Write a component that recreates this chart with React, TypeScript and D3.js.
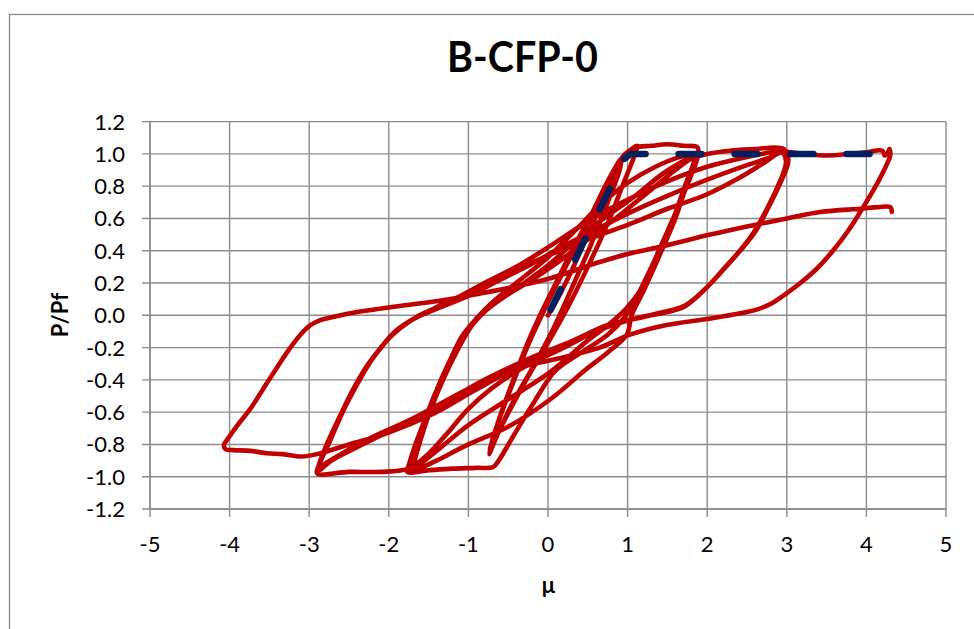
import React from "react";
import * as d3 from "d3";

const W = 974;
const H = 629;

const title = "B-CFP-0";
const xTitle = "μ";
const yTitle = "P/Pf";

const muTicks = [-5, -4, -3, -2, -1, 0, 1, 2, 3, 4, 5];
const pTicks = [-1.2, -1.0, -0.8, -0.6, -0.4, -0.2, 0.0, 0.2, 0.4, 0.6, 0.8, 1.0, 1.2];

// Idealised bilinear envelope (dashed)
const envelope: [number, number][] = [[0, 0], [0.96, 0.97], [1.04, 1.0], [4.05, 1.0]];

// Cyclic test record
const cycleA1: [number, number][] = [
  [0, 0], [0.15, 0.13], [0.3, 0.28], [0.5, 0.5], [0.7, 0.72], [0.85, 0.88], [0.97, 0.99], [1.05, 1.03], [1.12, 1.05],
  [1.08, 0.98], [0.95, 0.82], [0.75, 0.57], [0.5, 0.3], [0.25, 0.05], [0.0, -0.17], [-0.25, -0.38], [-0.45, -0.56], [-0.62, -0.72], [-0.73, -0.83],
  [-0.7, -0.78], [-0.6, -0.62], [-0.45, -0.42], [-0.28, -0.2], [-0.1, 0.0], [0.1, 0.2], [0.3, 0.4], [0.55, 0.63], [0.75, 0.83], [0.92, 0.97],
];
const cycleA2: [number, number][] = [
  [0.9, 0.9], [0.75, 0.7], [0.55, 0.45], [0.3, 0.17], [0.05, -0.1], [-0.2, -0.33], [-0.42, -0.52], [-0.6, -0.7], [-0.72, -0.84], [-0.74, -0.86],
  [-0.68, -0.74], [-0.55, -0.56], [-0.4, -0.37], [-0.22, -0.15], [0.0, 0.08], [0.2, 0.28], [0.45, 0.52], [0.68, 0.76], [0.88, 0.94], [0.97, 1.0],
];
const cycleB1: [number, number][] = [
  [1.1, 1.04], [1.3, 1.05], [1.5, 1.06], [1.7, 1.05], [1.88, 1.04],
  [1.88, 0.98], [1.8, 0.87], [1.66, 0.7], [1.5, 0.52], [1.3, 0.3], [1.1, 0.1], [0.95, -0.02], [0.75, -0.12], [0.45, -0.22], [0.2, -0.3],
  [0.06, -0.36], [-0.19, -0.55], [-0.45, -0.76], [-0.62, -0.9], [-0.69, -0.94], [-0.9, -0.945], [-1.2, -0.95], [-1.5, -0.96], [-1.77, -0.97],
  [-1.75, -0.93], [-1.68, -0.82], [-1.55, -0.65], [-1.43, -0.5], [-1.25, -0.3], [-1.08, -0.13], [-0.9, -0.02], [-0.7, 0.08], [-0.4, 0.2],
  [0.0, 0.36], [0.35, 0.53], [0.65, 0.68], [1.0, 0.82], [1.35, 0.92], [1.65, 0.98], [1.86, 1.0],
];
const cycleB2: [number, number][] = [
  [1.86, 0.97], [1.75, 0.82], [1.6, 0.6], [1.4, 0.37], [1.2, 0.15], [1.05, 0.0], [0.99, -0.12], [0.75, -0.23], [0.49, -0.33], [0.03, -0.52],
  [-0.5, -0.69], [-1.0, -0.8], [-1.4, -0.9], [-1.62, -0.95], [-1.74, -0.97],
  [-1.72, -0.93], [-1.65, -0.8], [-1.52, -0.62], [-1.38, -0.44], [-1.2, -0.25], [-1.02, -0.1], [-0.85, 0.0], [-0.6, 0.1], [-0.3, 0.2],
  [0.0, 0.31], [0.35, 0.46], [0.7, 0.6], [1.07, 0.73], [1.45, 0.88], [1.75, 0.97], [1.85, 1.0],
];
const cycleB3: [number, number][] = [
  [1.84, 0.96], [1.72, 0.8], [1.56, 0.58], [1.37, 0.36], [1.18, 0.17], [0.98, 0.04], [0.78, -0.05], [0.49, -0.16], [0.03, -0.35], [-0.5, -0.52],
  [-1.0, -0.68], [-1.4, -0.84], [-1.6, -0.92], [-1.7, -0.96],
  [-1.68, -0.91], [-1.6, -0.77], [-1.47, -0.58], [-1.3, -0.38], [-1.12, -0.2], [-0.95, -0.06], [-0.78, 0.03], [-0.5, 0.13], [-0.2, 0.22],
  [0.1, 0.32], [0.5, 0.47], [0.9, 0.62], [1.3, 0.78], [1.6, 0.9], [1.8, 0.97],
];
const cycleC1: [number, number][] = [
  [2.0, 1.0], [2.3, 1.02], [2.6, 1.03], [2.96, 1.03],
  [3.02, 0.96], [2.9, 0.8], [2.75, 0.65], [2.62, 0.53], [2.45, 0.42], [2.27, 0.32], [2.07, 0.21], [1.88, 0.12], [1.72, 0.06], [1.55, 0.03],
  [1.28, 0.0], [0.95, -0.04], [0.6, -0.1], [0.2, -0.2], [-0.3, -0.32], [-0.7, -0.45], [-1.0, -0.58], [-1.3, -0.75], [-1.55, -0.88],
  [-1.75, -0.95], [-2.1, -0.97], [-2.5, -0.97], [-2.9, -0.98],
  [-2.88, -0.93], [-2.78, -0.8], [-2.61, -0.62], [-2.45, -0.46], [-2.27, -0.31], [-2.1, -0.2], [-1.94, -0.11], [-1.8, -0.06], [-1.65, -0.01],
  [-1.44, 0.04], [-1.1, 0.12], [-0.8, 0.2], [-0.4, 0.3], [0.03, 0.43], [0.4, 0.55], [0.74, 0.65], [1.1, 0.74], [1.5, 0.83],
  [2.0, 0.92], [2.5, 0.98], [2.8, 1.01], [2.95, 1.02],
];
const cycleC2: [number, number][] = [
  [3.0, 0.95], [2.88, 0.79], [2.73, 0.64], [2.6, 0.52], [2.43, 0.41], [2.25, 0.31], [2.05, 0.2], [1.86, 0.11], [1.7, 0.05], [1.5, 0.02],
  [1.2, -0.01], [0.85, -0.05], [0.45, -0.13], [0.0, -0.23], [-0.35, -0.3], [-1.02, -0.46], [-1.7, -0.64], [-2.27, -0.77], [-2.6, -0.86],
  [-2.8, -0.92], [-2.9, -0.97],
  [-2.87, -0.92], [-2.76, -0.79], [-2.6, -0.62], [-2.43, -0.45], [-2.25, -0.3], [-2.08, -0.19], [-1.92, -0.1], [-1.75, -0.04], [-1.6, 0.0],
  [-1.4, 0.04], [-1.0, 0.12], [-0.6, 0.22], [-0.2, 0.32], [0.2, 0.43], [0.6, 0.53], [1.0, 0.63], [1.5, 0.74], [2.0, 0.84], [2.5, 0.93],
  [2.8, 0.98], [2.94, 1.01],
];
const cycleC3: [number, number][] = [
  [2.99, 0.95], [2.87, 0.78], [2.72, 0.63], [2.58, 0.51], [2.41, 0.4], [2.23, 0.3], [2.03, 0.19], [1.84, 0.1], [1.68, 0.05], [1.45, 0.02],
  [1.1, -0.02], [0.75, -0.06], [0.3, -0.16], [-0.2, -0.26], [-0.8, -0.4], [-1.44, -0.58], [-2.0, -0.72], [-2.45, -0.83], [-2.72, -0.9],
  [-2.88, -0.96],
  [-2.86, -0.91], [-2.74, -0.78], [-2.58, -0.6], [-2.4, -0.43], [-2.22, -0.28], [-2.05, -0.17], [-1.88, -0.09], [-1.72, -0.03], [-1.55, 0.01],
  [-1.36, 0.06], [-0.95, 0.15], [-0.5, 0.26], [0.0, 0.37], [0.5, 0.47], [1.0, 0.56], [1.5, 0.66], [2.0, 0.75], [2.4, 0.85], [2.7, 0.94],
  [2.93, 1.01],
];
const cycleD: [number, number][] = [
  [3.2, 1.0], [3.5, 0.99], [3.8, 1.0], [4.0, 1.01], [4.2, 1.02], [4.23, 0.99], [4.26, 1.0], [4.29, 1.03], [4.3, 0.99],
  [4.27, 0.95], [4.15, 0.83], [3.96, 0.67], [3.78, 0.53], [3.58, 0.4], [3.38, 0.29], [3.17, 0.2], [2.98, 0.13], [2.83, 0.08], [2.65, 0.04],
  [2.5, 0.02], [2.04, -0.02], [1.49, -0.06], [1.03, -0.12], [0.65, -0.2], [0.2, -0.26], [-0.39, -0.33], [-0.9, -0.46], [-1.44, -0.61],
  [-2.02, -0.73], [-2.5, -0.8], [-2.9, -0.86], [-3.1, -0.875], [-3.33, -0.86], [-3.53, -0.855], [-3.74, -0.84], [-3.95, -0.835],
  [-4.05, -0.83], [-4.07, -0.8],
  [-4.03, -0.77], [-3.9, -0.68], [-3.74, -0.58], [-3.57, -0.45], [-3.4, -0.32], [-3.25, -0.21], [-3.11, -0.12], [-2.98, -0.06], [-2.86, -0.03],
  [-2.7, -0.01], [-2.4, 0.02], [-1.98, 0.05], [-1.36, 0.09], [-0.8, 0.14], [-0.4, 0.18], [0.03, 0.23], [0.65, 0.33], [1.0, 0.38], [1.37, 0.42],
  [2.04, 0.5], [2.5, 0.55], [3.0, 0.6], [3.42, 0.64], [3.92, 0.66], [4.15, 0.67], [4.3, 0.67], [4.32, 0.64],
];

const record = [cycleA1, cycleA2, cycleB1, cycleB2, cycleB3, cycleC1, cycleC2, cycleC3, cycleD];

export default function App() {
  const left = 150, right = 946, top = 121.6, bottom = 509;
  const x = d3.scaleLinear().domain([-5, 5]).range([left, right]);
  const y = d3.scaleLinear().domain([-1.2, 1.2]).range([bottom, top]);
  const allPts = record.flat();
  const redPath = d3.line<[number, number]>()
    .x((d) => x(d[0]))
    .y((d) => y(d[1]))
    .curve(d3.curveCatmullRom.alpha(0.5))(allPts) || "";
  const bluePath = d3.line<[number, number]>()
    .x((d) => x(d[0]))
    .y((d) => y(d[1]))(envelope) || "";
  const grid = "#8c8c8c";
  const font = "Lato, 'Open Sans', sans-serif";

  return (
    <svg width={W} height={H} style={{ position: "absolute", left: 0, top: 0, background: "#fff" }}>
      <rect x={0} y={0} width={W} height={H} fill="#fff" />
      <rect x={9.5} y={14.5} width={1000} height={700} fill="#fff" stroke="#8a8a8a" strokeWidth={1.3} />
      {pTicks.map((t) => (
        <line key={"h" + t} x1={left - 8} x2={right} y1={y(t)} y2={y(t)} stroke={grid} strokeWidth={1.4} />
      ))}
      {muTicks.map((t) => (
        <line key={"v" + t} x1={x(t)} x2={x(t)} y1={top} y2={bottom + 8} stroke={grid} strokeWidth={1.4} />
      ))}
      <line x1={left} x2={right} y1={bottom} y2={bottom} stroke={grid} strokeWidth={1.6} />
      <line x1={left} x2={left} y1={top} y2={bottom} stroke={grid} strokeWidth={1.6} />
      <path d={redPath} fill="none" stroke="#C00000" strokeWidth={4.6} strokeLinejoin="round" strokeLinecap="round" />
      <path d={bluePath} fill="none" stroke="#002060" strokeWidth={6.5} strokeDasharray="23 33" strokeDashoffset={-6} strokeLinecap="round" strokeLinejoin="round" />
      {pTicks.map((t) => (
        <text key={"yl" + t} x={125} y={y(t) + 8} textAnchor="end" fontFamily={font} fontSize={22} fill="#000">
          {t.toFixed(1)}
        </text>
      ))}
      {muTicks.map((t) => (
        <text key={"xl" + t} x={x(t)} y={552} textAnchor="middle" fontFamily={font} fontSize={22} fill="#000">
          {String(t)}
        </text>
      ))}
      <text x={522.5} y={72} textAnchor="middle" fontFamily={font} fontWeight="bold" fontSize={41.5} textLength={151} lengthAdjust="spacingAndGlyphs" fill="#000">
        {title}
      </text>
      <text x={548.5} y={593} textAnchor="middle" fontFamily={font} fontWeight="bold" fontSize={22} fill="#000">
        {xTitle}
      </text>
      <text transform={`translate(68,${315}) rotate(-90)`} textAnchor="middle" fontFamily={font} fontWeight="bold" fontSize={22} fill="#000">
        {yTitle}
      </text>
    </svg>
  );
}
